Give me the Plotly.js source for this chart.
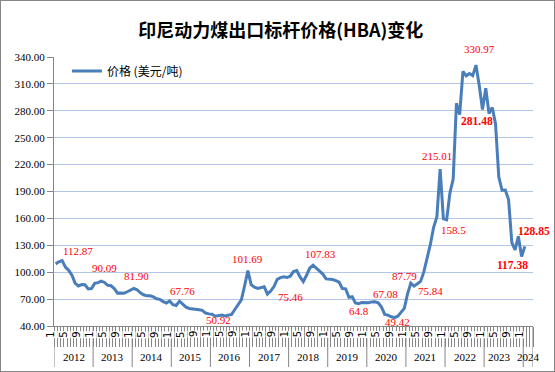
<!DOCTYPE html>
<html>
<head>
<meta charset="utf-8">
<script src="https://cdn.plot.ly/plotly-3.0.1.min.js"></script>
<style>
  html, body { margin: 0; padding: 0; background: #fff; }
  #wrap { position: relative; width: 555px; height: 372px; }
  #chart { width: 555px; height: 372px; }
  #frame { position: absolute; left: 0; top: 0; width: 555px; height: 372px; box-sizing: border-box; border: 1px solid #868686; pointer-events: none; }
</style>
</head>
<body>
<div id="wrap"><div id="chart"></div><div id="frame"></div></div>
<script>
// ---- data ----
const years = ['2012','2013','2014','2015','2016','2017','2018','2019','2020','2021','2022','2023','2024'];
const monthsShown = ['1','5','9'];
const seriesName = '价格 (美元/吨)';
const hba2012 = [109.29, 111.58, 112.87, 105.61, 102.12, 96.65, 87.56, 84.65, 86.21, 86.04, 81.44, 81.75];
const hba2013 = [87.55, 88.35, 90.09, 88.56, 85.33, 84.87, 81.69, 76.70, 76.89, 76.61, 78.19, 80.31];
const hba2014 = [81.90, 80.44, 77.01, 74.81, 73.60, 73.64, 72.45, 70.29, 69.69, 67.26, 65.70, 68.00];
const hba2015 = [63.84, 62.92, 67.76, 64.48, 61.08, 59.59, 59.16, 59.14, 58.21, 57.39, 54.43, 53.51];
const hba2016 = [53.20, 50.92, 51.62, 52.32, 51.20, 51.87, 53.00, 58.37, 63.93, 69.07, 84.89, 101.69];
const hba2017 = [86.23, 83.32, 81.90, 82.51, 83.81, 75.46, 78.95, 83.97, 92.03, 93.99, 94.80, 94.04];
const hba2018 = [95.54, 100.69, 101.86, 94.75, 89.53, 96.61, 104.65, 107.83, 104.81, 100.89, 97.90, 92.51];
const hba2019 = [92.41, 91.80, 90.57, 88.85, 81.86, 81.48, 71.92, 72.67, 65.79, 64.80, 66.27, 66.30];
const hba2020 = [65.93, 66.89, 67.08, 65.77, 61.11, 52.98, 52.16, 50.34, 49.42, 51.00, 55.71, 59.65];
const hba2021 = [75.84, 87.79, 84.47, 86.68, 89.74, 100.33, 115.35, 130.99, 150.03, 161.63, 215.01, 159.79];
const hba2022 = [158.50, 188.38, 203.69, 288.40, 275.64, 323.91, 319.00, 321.59, 319.22, 330.97, 308.20, 281.48];
const hba2023 = [305.21, 277.05, 283.61, 265.26, 206.28, 191.39, 191.62, 181.00, 133.00, 125.00, 140.00, 117.38];
const hba2024 = [128.85];
const monthsIn2024 = 3;
// labelled points: [year, month]
const labelYear  = ['2012','2013','2014','2015','2016','2016','2017','2018','2019','2020','2020','2021','2021','2021','2022','2022','2022','2023','2024'];
const labelMonth = [3, 3, 1, 3, 2, 12, 6, 8, 10, 3, 9, 2, 1, 11, 1, 10, 12, 12, 1];
const labelText  = ['112.87','90.09','81.90','67.76','50.92','101.69','75.46','107.83','64.8','67.08','49.42','87.79','75.84','215.01','158.5','330.97','281.48','117.38','128.85'];

// ---- build ----
const hba = [].concat(hba2012, hba2013, hba2014, hba2015, hba2016, hba2017, hba2018, hba2019, hba2020, hba2021, hba2022, hba2023, hba2024);
const xIdx = hba.map((v, i) => i);
const nCats = (years.length - 1) * 12 + monthsIn2024;
const idxOf = (y, m) => years.indexOf(y) * 12 + (m - 1);

// styles / positions
const lblShift = [[16,10],[3,13],[3,12],[3,10],[3,-4],[0,12],[23,-3],[7,11],[0,-7],[11,8],[3,-4],[-6,7],[23,3],[-3,13],[7,-10],[4,16],[-5,-12],[-9,-8],[9,15]];
const boldSet = ['281.48','117.38','128.85'];

const H = 372, plotTop = 57, plotBot = 326, plotH = plotBot - plotTop;
const toPaperY = (py) => (plotBot - py) / plotH;
const axFont = { family: 'Liberation Serif', size: 11, color: '#000' };
const monthFont = { family: 'DejaVu Sans', size: 10, color: '#000' };

const annotations = labelText.map((t, k) => {
  const i = idxOf(labelYear[k], labelMonth[k]);
  return {
    x: i, y: hba[i], xref: 'x', yref: 'y', text: t, showarrow: false,
    xshift: lblShift[k][0], yshift: lblShift[k][1],
    font: { family: 'Liberation Serif', size: boldSet.includes(t) ? 11.5 : 11, color: '#ff0000', weight: boldSet.includes(t) ? 'bold' : 'normal' }
  };
});
// month labels (1, 5, 9) under the axis, rotated
for (let i = 0; i < nCats; i++) {
  const m = String(i % 12 + 1);
  if (monthsShown.includes(m)) {
    annotations.push({
      x: i, y: toPaperY(330.5), xref: 'x', yref: 'paper', text: m, showarrow: false,
      textangle: -90, xanchor: 'center', yanchor: 'top', xshift: -5.5, font: monthFont,
      bgcolor: '#ffffff', borderpad: 0
    });
  }
}
// year labels
years.forEach((y, k) => {
  const start = k * 12 - 0.5;
  const len = (k === years.length - 1) ? monthsIn2024 : 12;
  let cx = start + len / 2;
  if (y === '2023') cx -= 1.2;
  annotations.push({
    x: cx, y: toPaperY(357), xref: 'x', yref: 'paper', text: y, showarrow: false,
    yanchor: 'middle', font: axFont
  });
});

const shapes = [];
for (let k = 0; k <= years.length; k++) {
  const xb = (k < years.length) ? k * 12 - 0.5 : nCats - 0.5;
  shapes.push({ type: 'line', xref: 'x', yref: 'paper', x0: xb, x1: xb, y0: 0, y1: toPaperY(367), line: { color: '#868686', width: 1 } });
}

const trace = {
  x: xIdx, y: hba, type: 'scatter', mode: 'lines', name: seriesName,
  line: { color: '#4a7ebb', width: 3 }
};

const layout = {
  width: 555, height: 372,
  margin: { l: 54, r: 22, t: plotTop, b: H - plotBot, pad: 0 },
  paper_bgcolor: '#fff', plot_bgcolor: '#fff',
  title: { text: '印尼动力煤出口标杆价格(HBA)变化', x: 0.506, xref: 'container', y: 1 - 31 / H, yref: 'container', yanchor: 'middle', xanchor: 'center',
           font: { family: 'Noto Sans CJK SC', size: 18, weight: 'bold', color: '#000' } },
  showlegend: true,
  legend: { x: 0.027, y: toPaperY(71), xanchor: 'left', yanchor: 'middle', bgcolor: 'rgba(0,0,0,0)',
            font: { family: 'Noto Sans CJK SC', size: 12, color: '#000' } },
  xaxis: {
    range: [-0.5, nCats - 0.5], tickmode: 'array', tickvals: [], ticks: '', showticklabels: false,
    showgrid: false, zeroline: false, showline: true, linecolor: '#868686', linewidth: 1,
    minor: { tickmode: 'linear', tick0: -0.5, dtick: 1, ticks: 'outside', ticklen: 20, tickcolor: '#868686', tickwidth: 1, showgrid: false },
    fixedrange: true
  },
  yaxis: {
    range: [40, 340], tick0: 40, dtick: 30, tickformat: '.2f',
    ticks: 'outside', ticklen: 6, tickcolor: '#868686', showline: true, linecolor: '#868686',
    gridcolor: '#b3c6e7', gridwidth: 1, zeroline: false,
    tickfont: axFont, fixedrange: true
  },
  annotations: annotations,
  shapes: shapes
};

Plotly.newPlot('chart', [trace], layout, { staticPlot: true, displayModeBar: false });
</script>
</body>
</html>
